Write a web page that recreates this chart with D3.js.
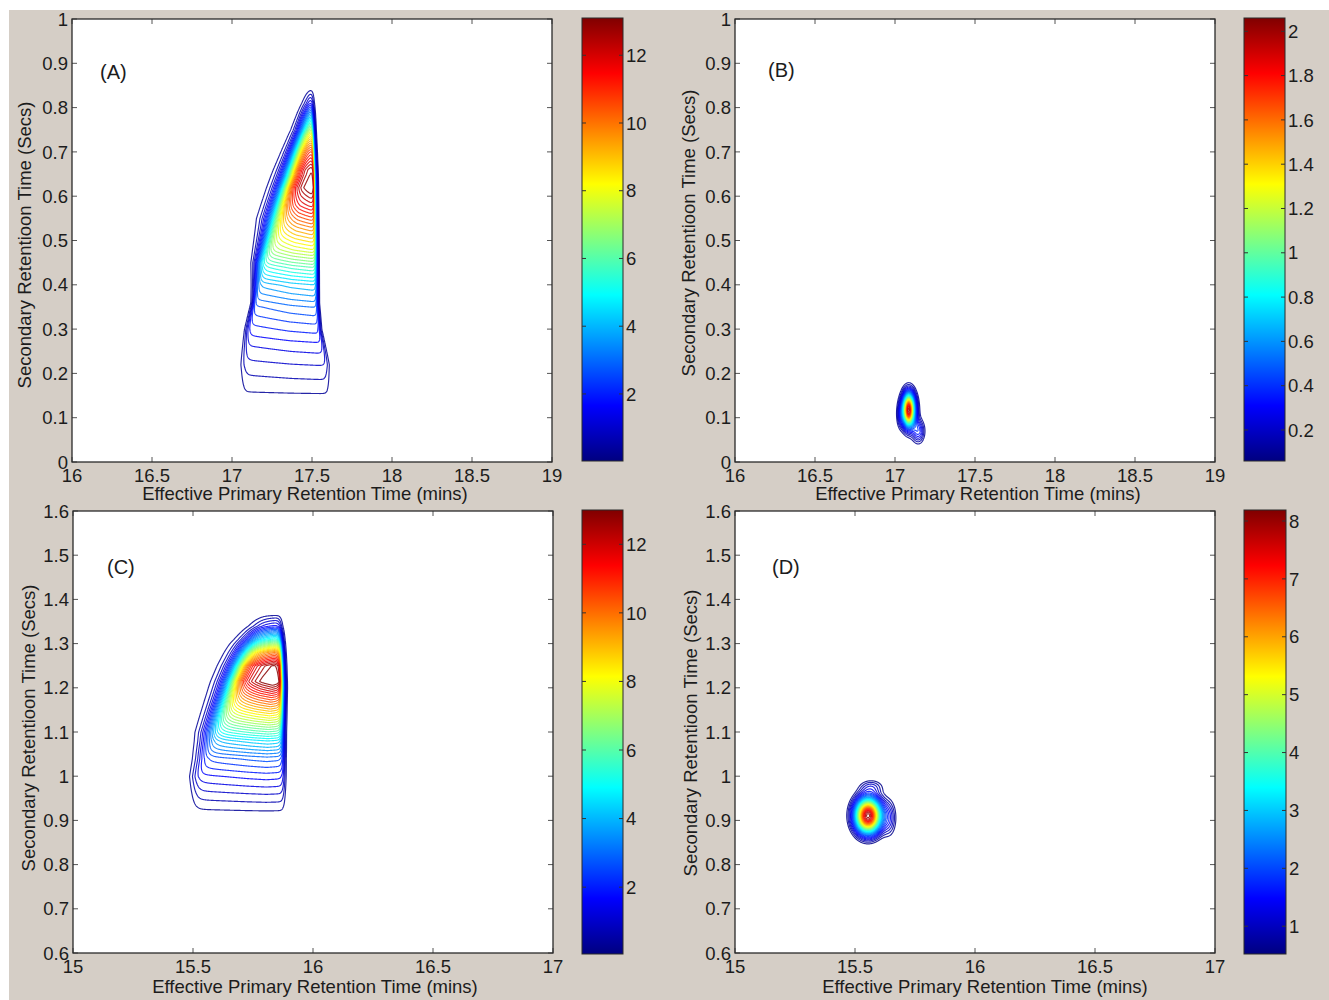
<!DOCTYPE html>
<html>
<head>
<meta charset="utf-8">
<script src="https://d3js.org/d3.v7.min.js"></script>
<style>
  body { margin: 0; background: #fff; }
  text { font-family: "Liberation Sans", Arial, sans-serif; fill: #1c1c1c; }
</style>
</head>
<body>
<svg id="chart" width="1329" height="1000"></svg>
<script>
// ---- axes / colour bars ----
var panelNames = ["(A)", "(B)", "(C)", "(D)"];
var xDomains = [[16, 19], [16, 19], [15, 17], [15, 17]];
var yDomains = [[0, 1], [0, 1], [0.6, 1.6], [0.6, 1.6]];
var xTickValues = [
  [16, 16.5, 17, 17.5, 18, 18.5, 19],
  [16, 16.5, 17, 17.5, 18, 18.5, 19],
  [15, 15.5, 16, 16.5, 17],
  [15, 15.5, 16, 16.5, 17]
];
var yTickValues = [
  [0, 0.1, 0.2, 0.3, 0.4, 0.5, 0.6, 0.7, 0.8, 0.9, 1],
  [0, 0.1, 0.2, 0.3, 0.4, 0.5, 0.6, 0.7, 0.8, 0.9, 1],
  [0.6, 0.7, 0.8, 0.9, 1, 1.1, 1.2, 1.3, 1.4, 1.5, 1.6],
  [0.6, 0.7, 0.8, 0.9, 1, 1.1, 1.2, 1.3, 1.4, 1.5, 1.6]
];
var colorDomains = [[0.02, 13.1], [0.06, 2.06], [0.05, 13.0], [0.52, 8.19]];
var colorTicks = [
  [2, 4, 6, 8, 10, 12],
  [0.2, 0.4, 0.6, 0.8, 1, 1.2, 1.4, 1.6, 1.8, 2],
  [2, 4, 6, 8, 10, 12],
  [1, 2, 3, 4, 5, 6, 7, 8]
];
// contour levels: first level, step, last level
var levelStart = [0.33, 0.1, 0.33, 0.6];
var levelStep = [0.33, 0.05, 0.33, 0.2];
var levelEnd = [13.0, 2.0, 12.9, 8.0];

var xTitle = "Effective Primary Retention Time (mins)";
var yTitle = "Secondary Retentioon Time (Secs)";

// ---- peak (A): intensity along the ridge, and the peak edges ----
var ridgeA_y = [0.13, 0.16, 0.21, 0.26, 0.31, 0.35, 0.40, 0.44, 0.48, 0.53, 0.58, 0.62, 0.66, 0.70, 0.74, 0.78, 0.81, 0.84, 0.87];
var ridgeA_v = [0, 0.4, 0.9, 1.5, 2.3, 3.0, 4.3, 6.0, 8.0, 10.0, 12.2, 13.6, 13.2, 11.5, 9.0, 5.0, 2.2, 0.5, 0];
var edgeA_y = [0.10, 0.22, 0.30, 0.36, 0.45, 0.55, 0.65, 0.75, 0.85];
var edgeA_left = [17.06, 17.06, 17.09, 17.13, 17.16, 17.25, 17.35, 17.43, 17.48];
var edgeA_leftW = [0.010, 0.012, 0.009, 0.007, 0.016, 0.030, 0.030, 0.022, 0.014];
var edgeA_right = [17.61, 17.60, 17.55, 17.535, 17.53, 17.525, 17.52, 17.51, 17.50];
var edgeA_rightW = [0.009, 0.009, 0.006, 0.005, 0.005, 0.005, 0.005, 0.005, 0.007];
var crossA_t = [0, 0.58, 1];
var crossA_f = [0.85, 0.955, 1];

// ---- peak (C) ----
var ridgeC_y = [0.90, 0.93, 0.96, 1.00, 1.04, 1.08, 1.13, 1.18, 1.215, 1.25, 1.28, 1.31, 1.34, 1.37];
var ridgeC_v = [0, 0.45, 1.0, 1.8, 2.8, 4.6, 7.8, 11.0, 13.5, 13.0, 10.0, 5.5, 1.8, 0];
var edgeC_y = [0.85, 1.00, 1.10, 1.20, 1.30, 1.40];
var edgeC_left = [15.50, 15.50, 15.56, 15.645, 15.72, 15.81];
var edgeC_leftW = [0.010, 0.012, 0.020, 0.024, 0.024, 0.016];
var edgeC_right = [15.88, 15.88, 15.875, 15.875, 15.87, 15.86];
var edgeC_rightW = [0.005, 0.005, 0.005, 0.005, 0.005, 0.006];
var crossC_t = [0, 0.6, 0.8, 1];
var crossC_f = [0.85, 0.97, 1, 0.97];

// ---- peaks (B) and (D): small spots, one row per lobe ----
var blobB_x = [17.085, 17.145, 17.03];
var blobB_y = [0.118, 0.07, 0.105];
var blobB_sx = [0.028, 0.026, 0.015];
var blobB_sy = [0.025, 0.018, 0.020];
var blobB_h = [2.02, 0.36, 0.15];

var blobD_x = [15.554, 15.645, 15.57];
var blobD_y = [0.911, 0.905, 0.978];
var blobD_sx = [0.039, 0.022, 0.038];
var blobD_sy = [0.028, 0.032, 0.012];
var blobD_h = [8.1, 0.95, 0.75];

// ---- layout (pixels) ----
var layout = [
  { plot: [72, 19, 552, 462], cbar: [582, 18, 623, 461], yTitle: [24, 245], xTitle: [305, 500], label: [100, 79], win: [16.9, 17.75, 0.08, 0.92], step: 0.5 },
  { plot: [735, 19, 1215, 462], cbar: [1244, 18, 1285, 461], yTitle: [688, 233], xTitle: [978, 500], label: [768, 77], win: [16.9, 17.3, 0.0, 0.25], step: 0.25 },
  { plot: [73, 511, 553, 953], cbar: [582, 510, 623, 954], yTitle: [28, 728], xTitle: [315, 993], label: [107, 574], win: [15.35, 16.0, 0.85, 1.45], step: 0.5 },
  { plot: [735, 511, 1215, 953], cbar: [1244, 510, 1286, 954], yTitle: [690, 733], xTitle: [985, 993], label: [772, 574], win: [15.4, 15.75, 0.78, 1.05], step: 0.25 }
];

function logistic(z) { return 1 / (1 + Math.exp(-z)); }

function ridgeField(ry, rv, ey, el, elw, er, erw, ct, cf) {
  var g = d3.scaleLinear().domain(ry).range(rv).clamp(true);
  var L = d3.scaleLinear().domain(ey).range(el).clamp(true);
  var LW = d3.scaleLinear().domain(ey).range(elw).clamp(true);
  var R = d3.scaleLinear().domain(ey).range(er).clamp(true);
  var RW = d3.scaleLinear().domain(ey).range(erw).clamp(true);
  var cross = d3.scaleLinear().domain(ct).range(cf).clamp(true);
  return function(x, y) {
    var l = L(y), r = R(y);
    return g(y) * cross((x - l) / (r - l)) * logistic((x - l) / LW(y)) * logistic((r - x) / RW(y));
  };
}

function blobField(bx, by, bsx, bsy, bh) {
  return function(x, y) {
    var s = 0;
    for (var k = 0; k < bx.length; k++) {
      var dx = (x - bx[k]) / bsx[k], dy = (y - by[k]) / bsy[k];
      s += bh[k] * Math.exp(-0.5 * (dx * dx + dy * dy));
    }
    return s;
  };
}

var fields = [
  ridgeField(ridgeA_y, ridgeA_v, edgeA_y, edgeA_left, edgeA_leftW, edgeA_right, edgeA_rightW, crossA_t, crossA_f),
  blobField(blobB_x, blobB_y, blobB_sx, blobB_sy, blobB_h),
  ridgeField(ridgeC_y, ridgeC_v, edgeC_y, edgeC_left, edgeC_leftW, edgeC_right, edgeC_rightW, crossC_t, crossC_f),
  blobField(blobD_x, blobD_y, blobD_sx, blobD_sy, blobD_h)
];

// MATLAB jet
function jet(t) {
  t = Math.max(0, Math.min(1, t));
  var c = function(v) { return Math.round(255 * Math.max(0, Math.min(1, v))); };
  return d3.rgb(c(1.5 - Math.abs(4 * t - 3)), c(1.5 - Math.abs(4 * t - 2)), c(1.5 - Math.abs(4 * t - 1))).toString();
}

var svg = d3.select("#chart");
svg.append("rect").attr("x", 9).attr("y", 10).attr("width", 1320).attr("height", 990).attr("fill", "#d5cec6");
var defs = svg.append("defs");

var fmt = d3.format("~g");

layout.forEach(function(lay, p) {
  var pl = lay.plot;
  var x = d3.scaleLinear().domain(xDomains[p]).range([pl[0], pl[2]]);
  var y = d3.scaleLinear().domain(yDomains[p]).range([pl[3], pl[1]]);
  var cmin = colorDomains[p][0], cmax = colorDomains[p][1];
  var g = svg.append("g");

  g.append("rect").attr("x", pl[0]).attr("y", pl[1])
    .attr("width", pl[2] - pl[0]).attr("height", pl[3] - pl[1]).attr("fill", "#fff");

  // contours
  var step = lay.step, w = lay.win;
  var px0 = x(w[0]), px1 = x(w[1]), py0 = y(w[3]), py1 = y(w[2]);
  var n = Math.ceil((px1 - px0) / step) + 1, m = Math.ceil((py1 - py0) / step) + 1;
  var values = new Float64Array(n * m);
  var f = fields[p];
  for (var j = 0; j < m; j++) {
    var yv = y.invert(py0 + j * step);
    for (var i = 0; i < n; i++) values[j * n + i] = f(x.invert(px0 + i * step), yv);
  }
  var levels = d3.range(levelStart[p], levelEnd[p] + levelStep[p] / 2, levelStep[p]);
  var contours = d3.contours().size([n, m]).thresholds(levels)(values);
  var path = d3.geoPath(d3.geoIdentity().scale(step).translate([px0, py0]));
  g.append("g").selectAll("path").data(contours.slice().reverse()).join("path")
    .attr("d", path)
    .attr("fill", "none")
    .attr("stroke", function(d) { return jet((d.value - cmin) / (cmax - cmin)); })
    .attr("stroke-width", 1.15)
    .attr("stroke-opacity", 0.85);

  // ticks (inward, all four sides)
  var tk = 5;
  var ticks = g.append("g").attr("stroke", "#555").attr("stroke-width", 1);
  xTickValues[p].forEach(function(v) {
    ticks.append("line").attr("x1", x(v)).attr("x2", x(v)).attr("y1", pl[3]).attr("y2", pl[3] - tk);
    ticks.append("line").attr("x1", x(v)).attr("x2", x(v)).attr("y1", pl[1]).attr("y2", pl[1] + tk);
  });
  yTickValues[p].forEach(function(v) {
    ticks.append("line").attr("y1", y(v)).attr("y2", y(v)).attr("x1", pl[0]).attr("x2", pl[0] + tk);
    ticks.append("line").attr("y1", y(v)).attr("y2", y(v)).attr("x1", pl[2]).attr("x2", pl[2] - tk);
  });
  g.append("rect").attr("x", pl[0]).attr("y", pl[1])
    .attr("width", pl[2] - pl[0]).attr("height", pl[3] - pl[1])
    .attr("fill", "none").attr("stroke", "#2a2a2a").attr("stroke-width", 1.3);

  // tick labels
  g.append("g").selectAll("text").data(xTickValues[p]).join("text")
    .attr("x", function(d) { return x(d); }).attr("y", pl[3] + 19.5)
    .attr("text-anchor", "middle").attr("font-size", 18.5).text(fmt);
  g.append("g").selectAll("text").data(yTickValues[p]).join("text")
    .attr("x", pl[0] - 4).attr("y", function(d) { return y(d); }).attr("dy", "0.36em")
    .attr("text-anchor", "end").attr("font-size", 18.5).text(fmt);

  // titles
  g.append("text").attr("x", lay.xTitle[0]).attr("y", lay.xTitle[1])
    .attr("text-anchor", "middle").attr("font-size", 18.5).text(xTitle);
  g.append("text").attr("transform", "translate(" + lay.yTitle[0] + "," + lay.yTitle[1] + ") rotate(-90)")
    .attr("dy", "0.36em").attr("text-anchor", "middle").attr("font-size", 18.5).text(yTitle);
  g.append("text").attr("x", lay.label[0]).attr("y", lay.label[1])
    .attr("font-size", 20).text(panelNames[p]);

  // colour bar
  var cb = lay.cbar;
  var gid = "jet" + p;
  var grad = defs.append("linearGradient").attr("id", gid)
    .attr("x1", 0).attr("y1", 1).attr("x2", 0).attr("y2", 0);
  d3.range(0, 1.0001, 0.0625).forEach(function(t) {
    grad.append("stop").attr("offset", t).attr("stop-color", jet(t));
  });
  var cy = d3.scaleLinear().domain([cmin, cmax]).range([cb[3], cb[1]]);
  g.append("rect").attr("x", cb[0]).attr("y", cb[1])
    .attr("width", cb[2] - cb[0]).attr("height", cb[3] - cb[1])
    .attr("fill", "url(#" + gid + ")").attr("stroke", "#2a2a2a").attr("stroke-width", 1);
  var cticks = g.append("g").attr("stroke", "#333").attr("stroke-width", 1);
  colorTicks[p].forEach(function(v) {
    cticks.append("line").attr("x1", cb[0]).attr("x2", cb[0] + 4).attr("y1", cy(v)).attr("y2", cy(v));
    cticks.append("line").attr("x1", cb[2]).attr("x2", cb[2] - 4).attr("y1", cy(v)).attr("y2", cy(v));
  });
  g.append("g").selectAll("text").data(colorTicks[p]).join("text")
    .attr("x", cb[2] + 3).attr("y", function(d) { return cy(d); }).attr("dy", "0.36em")
    .attr("font-size", 18.5).text(fmt);
});
</script>
</body>
</html>
